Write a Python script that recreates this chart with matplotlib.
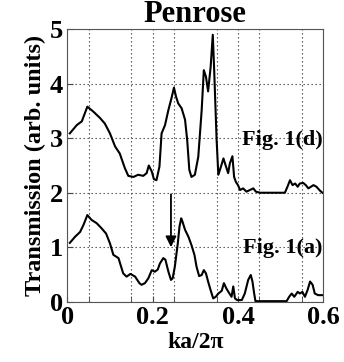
import matplotlib
matplotlib.use("Agg")
import matplotlib.pyplot as plt
import numpy as np

# Spectrum (d), offset by 2 units
ka_d = [0.006, 0.022, 0.034, 0.047, 0.061, 0.077, 0.088, 0.100, 0.112, 0.123,
        0.135, 0.143, 0.155, 0.166, 0.178, 0.186, 0.191, 0.198, 0.203, 0.209,
        0.216, 0.221, 0.229, 0.237, 0.245, 0.250, 0.255, 0.260, 0.268, 0.276,
        0.281, 0.286, 0.291, 0.299, 0.307, 0.315, 0.320, 0.325, 0.330, 0.336,
        0.341, 0.344, 0.350, 0.354, 0.359, 0.366, 0.372, 0.377, 0.381, 0.387,
        0.391, 0.395, 0.400, 0.405, 0.412, 0.420, 0.428, 0.436, 0.442, 0.452,
        0.510, 0.516, 0.522, 0.528, 0.534, 0.540, 0.545, 0.553, 0.559, 0.565,
        0.571, 0.577, 0.584, 0.592, 0.598]
trans_d = [3.09, 3.24, 3.31, 3.58, 3.49, 3.37, 3.27, 3.09, 2.85, 2.72,
           2.45, 2.31, 2.29, 2.33, 2.31, 2.36, 2.50, 2.39, 2.25, 2.23,
           2.48, 3.09, 3.24, 3.52, 3.76, 3.93, 3.76, 3.64, 3.55, 3.34,
           2.97, 2.42, 2.29, 2.33, 2.66, 3.52, 4.25, 4.13, 3.86, 4.31,
           4.90, 4.31, 2.97, 2.33, 2.45, 2.63, 2.48, 2.36, 2.54, 2.67,
           2.29, 2.20, 2.14, 2.05, 2.08, 2.02, 2.05, 2.08, 2.02, 2.00,
           2.00, 2.11, 2.23, 2.14, 2.17, 2.11, 2.17, 2.18, 2.14, 2.08,
           2.11, 2.14, 2.11, 2.04, 2.00]

# Spectrum (a)
ka_a = [0.006, 0.018, 0.030, 0.038, 0.047, 0.057, 0.069, 0.080, 0.091, 0.100,
        0.108, 0.120, 0.131, 0.139, 0.148, 0.159, 0.169, 0.174, 0.182, 0.190,
        0.198, 0.205, 0.212, 0.217, 0.225, 0.230, 0.237, 0.243, 0.247, 0.252,
        0.259, 0.263, 0.267, 0.270, 0.276, 0.284, 0.291, 0.298, 0.303, 0.309,
        0.315, 0.320, 0.325, 0.330, 0.336, 0.342, 0.348, 0.354, 0.362, 0.367,
        0.373, 0.380, 0.385, 0.389, 0.393, 0.398, 0.409, 0.416, 0.424, 0.430,
        0.434, 0.438, 0.441, 0.514, 0.520, 0.526, 0.532, 0.540, 0.545, 0.551,
        0.557, 0.563, 0.569, 0.575, 0.580, 0.588, 0.598]
trans_a = [1.08, 1.19, 1.28, 1.41, 1.59, 1.50, 1.44, 1.35, 1.25, 1.07,
           0.86, 0.80, 0.52, 0.46, 0.51, 0.46, 0.34, 0.31, 0.34, 0.43,
           0.58, 0.55, 0.59, 0.70, 0.80, 0.77, 0.55, 0.40, 0.43, 0.64,
           1.07, 1.38, 1.53, 1.47, 1.32, 1.19, 1.04, 0.86, 0.64, 0.47,
           0.49, 0.58, 0.52, 0.37, 0.21, 0.06, 0.09, 0.15, 0.20, 0.34,
           0.24, 0.15, 0.09, 0.28, 0.06, 0.03, 0.03, 0.15, 0.40, 0.49,
           0.37, 0.15, 0.01, 0.01, 0.09, 0.15, 0.09, 0.18, 0.15, 0.18,
           0.09, 0.21, 0.37, 0.31, 0.15, 0.12, 0.12]

x_ticks = [0, 0.2, 0.4, 0.6]
x_tick_labels = ["0", "0.2", "0.4", "0.6"]
y_ticks = [0, 1, 2, 3, 4, 5]

serif = ["Liberation Serif", "DejaVu Serif"]
plt.rcParams["font.family"] = serif
plt.rcParams["font.weight"] = "bold"

fig = plt.figure(figsize=(3.44, 3.62), dpi=100)
ax = fig.add_axes([0.1956, 0.1666, 0.7442, 0.7524])

ax.plot(ka_d, trans_d, color="black", lw=1.5)
ax.plot(ka_a, trans_a, color="black", lw=1.5)

ax.set_xlim(0, 0.6)
ax.set_ylim(0, 5)
ax.set_xticks(x_ticks)
ax.set_xticklabels(x_tick_labels)
ax.set_xticks(np.arange(0.05, 0.6, 0.1), minor=True)
ax.set_yticks(y_ticks)
ax.grid(True, which="both", axis="x", color="#444444", ls=(0, (1.2, 2.4)), lw=0.8)
ax.grid(True, which="major", axis="y", color="#444444", ls=(0, (1.2, 2.4)), lw=0.8)
ax.tick_params(axis="both", which="both", direction="in", length=4,
               labelsize=19, pad=3, color="#444444")
for lab in ax.get_xticklabels() + ax.get_yticklabels():
    lab.set_fontweight("bold")
for sp in ax.spines.values():
    sp.set_color("#555555")
    sp.set_linewidth(0.8)

ax.set_title("Penrose", fontsize=22, fontweight="bold", pad=0)
ax.set_xlabel("ka/2π", fontsize=17, fontweight="bold", labelpad=2)
ax.set_ylabel("Transmission (arb. units)", fontsize=17.5, fontweight="bold", labelpad=3)

ax.text(0.598, 2.97, "Fig. 1(d)", fontsize=16, fontweight="bold",
        ha="right", va="center")
ax.text(0.598, 0.98, "Fig. 1(a)", fontsize=16, fontweight="bold",
        ha="right", va="center")

ax.annotate("", xy=(0.243, 1.0), xytext=(0.243, 1.97),
            arrowprops=dict(arrowstyle="-|>", color="black", lw=1.3,
                            mutation_scale=16, shrinkA=0, shrinkB=0))

fig.savefig("out.png", dpi=100)
